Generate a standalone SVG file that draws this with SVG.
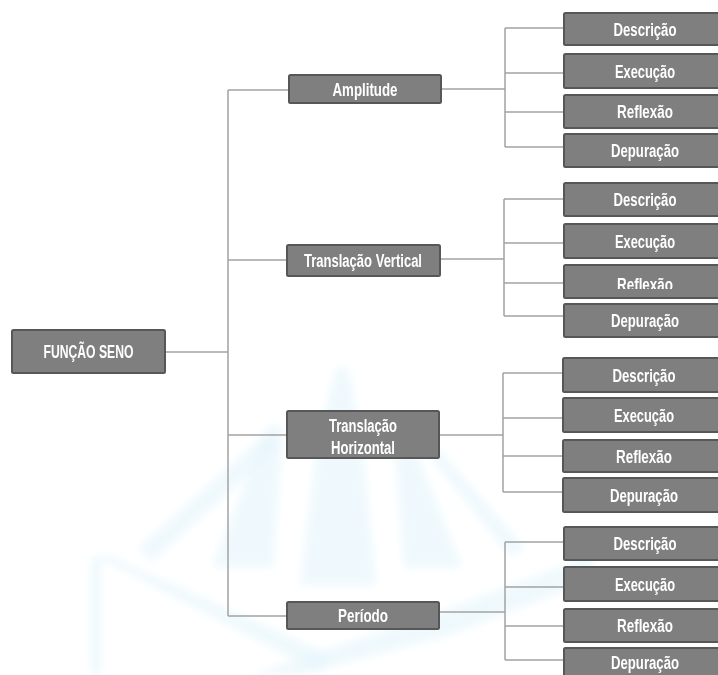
<svg xmlns="http://www.w3.org/2000/svg" width="718" height="675" viewBox="0 0 718 675">
<style>
.box{fill:#7f7f7f;stroke:#575757;stroke-width:2}
.t{font-family:"Liberation Sans",Arial,sans-serif;font-weight:bold;font-size:18px;fill:#ffffff;text-anchor:middle}
.ln{stroke:#a2a2a2;stroke-width:1.5;fill:none}
.wm{fill:#e2f4fc;opacity:0.55}
</style>
<defs>
<filter id="blur" x="-10%" y="-10%" width="120%" height="120%"><feGaussianBlur stdDeviation="4"/></filter>
<clipPath id="clipR"><rect x="563" y="265" width="156" height="24"/></clipPath>
</defs>
<rect x="0" y="0" width="718" height="675" fill="#ffffff"/>

<g id="watermark" filter="url(#blur)">
<polygon class="wm" points="336,368 348,368 362,440 376,585 300,585 318,440"/>
<polygon class="wm" points="268,426 283,426 273,567 212,567"/>
<polygon class="wm" points="393,426 406,426 462,567 404,567"/>
<polygon class="wm" points="138,548 268,432 280,446 152,562"/>
<polygon class="wm" points="410,432 420,428 525,548 510,556"/>
<polygon class="wm" points="91,557 101,557 101,675 91,675"/>
<polygon class="wm" points="95,556 110,556 330,655 320,672"/>
<polygon class="wm" points="250,675 440,612 590,556 598,578 450,635 300,675"/>
</g>

<g id="connectors">
<path class="ln" d="M165,352 H228 M228,90 V616 M228,90 H289 M228,260 H287 M228,435 H287 M228,616 H287"/>
<path class="ln" d="M441,89 H505 M505,28 V147 M505,28 H563 M505,73 H563 M505,112 H563 M505,147 H563"/>
<path class="ln" d="M440,259 H504 M504,199 V316 M504,199 H563 M504,243 H563 M504,283 H563 M504,316 H563"/>
<path class="ln" d="M439,435 H503 M503,373 V492 M503,373 H563 M503,418 H563 M503,456 H563 M503,492 H563"/>
<path class="ln" d="M439,612 H505 M505,542 V660 M505,542 H563 M505,587 H563 M505,626 H563 M505,660 H563"/>
</g>

<g id="n-funcao-seno"><rect class="box" x="12" y="330" width="153" height="43" rx="1.5"/><text class="t" x="88.5" y="358" textLength="90" lengthAdjust="spacingAndGlyphs">FUNÇÃO SENO</text></g>

<g id="n-amplitude"><rect class="box" x="289" y="75" width="152" height="28" rx="1.5"/><text class="t" x="365" y="96" textLength="65" lengthAdjust="spacingAndGlyphs">Amplitude</text></g>
<g id="n-trans-vertical"><rect class="box" x="287" y="245" width="153" height="31" rx="1.5"/><text class="t" x="363" y="267" textLength="118" lengthAdjust="spacingAndGlyphs">Translação Vertical</text></g>
<g id="n-trans-horizontal"><rect class="box" x="287" y="411" width="152" height="47" rx="1.5"/><text class="t" x="363" y="432" textLength="68" lengthAdjust="spacingAndGlyphs">Translação</text><text class="t" x="363" y="454" textLength="64" lengthAdjust="spacingAndGlyphs">Horizontal</text></g>
<g id="n-periodo"><rect class="box" x="287" y="602" width="152" height="27" rx="1.5"/><text class="t" x="363" y="622" textLength="50" lengthAdjust="spacingAndGlyphs">Período</text></g>

<g id="n-a-descricao"><rect class="box" x="564" y="13" width="156" height="32" rx="1.5"/><text class="t" x="645" y="36" textLength="63" lengthAdjust="spacingAndGlyphs">Descrição</text></g>
<g id="n-a-execucao"><rect class="box" x="564" y="54" width="156" height="34" rx="1.5"/><text class="t" x="645" y="78" textLength="60" lengthAdjust="spacingAndGlyphs">Execução</text></g>
<g id="n-a-reflexao"><rect class="box" x="564" y="95" width="156" height="33" rx="1.5"/><text class="t" x="645" y="118" textLength="56" lengthAdjust="spacingAndGlyphs">Reflexão</text></g>
<g id="n-a-depuracao"><rect class="box" x="564" y="134" width="156" height="33" rx="1.5"/><text class="t" x="645" y="157" textLength="68" lengthAdjust="spacingAndGlyphs">Depuração</text></g>

<g id="n-v-descricao"><rect class="box" x="564" y="183" width="156" height="33" rx="1.5"/><text class="t" x="645" y="206" textLength="63" lengthAdjust="spacingAndGlyphs">Descrição</text></g>
<g id="n-v-execucao"><rect class="box" x="564" y="224" width="156" height="34" rx="1.5"/><text class="t" x="645" y="248" textLength="60" lengthAdjust="spacingAndGlyphs">Execução</text></g>
<g id="n-v-reflexao"><rect class="box" x="564" y="265" width="156" height="33" rx="1.5"/><text class="t" x="645" y="291" textLength="56" lengthAdjust="spacingAndGlyphs" clip-path="url(#clipR)">Reflexão</text></g>
<g id="n-v-depuracao"><rect class="box" x="564" y="304" width="156" height="33" rx="1.5"/><text class="t" x="645" y="327" textLength="68" lengthAdjust="spacingAndGlyphs">Depuração</text></g>

<g id="n-h-descricao"><rect class="box" x="563" y="358" width="157" height="34" rx="1.5"/><text class="t" x="644" y="382" textLength="63" lengthAdjust="spacingAndGlyphs">Descrição</text></g>
<g id="n-h-execucao"><rect class="box" x="563" y="398" width="157" height="34" rx="1.5"/><text class="t" x="644" y="422" textLength="60" lengthAdjust="spacingAndGlyphs">Execução</text></g>
<g id="n-h-reflexao"><rect class="box" x="563" y="440" width="157" height="32" rx="1.5"/><text class="t" x="644" y="463" textLength="56" lengthAdjust="spacingAndGlyphs">Reflexão</text></g>
<g id="n-h-depuracao"><rect class="box" x="563" y="478" width="157" height="34" rx="1.5"/><text class="t" x="644" y="502" textLength="68" lengthAdjust="spacingAndGlyphs">Depuração</text></g>

<g id="n-p-descricao"><rect class="box" x="564" y="527" width="156" height="33" rx="1.5"/><text class="t" x="645" y="550" textLength="63" lengthAdjust="spacingAndGlyphs">Descrição</text></g>
<g id="n-p-execucao"><rect class="box" x="564" y="567" width="156" height="34" rx="1.5"/><text class="t" x="645" y="591" textLength="60" lengthAdjust="spacingAndGlyphs">Execução</text></g>
<g id="n-p-reflexao"><rect class="box" x="564" y="609" width="156" height="33" rx="1.5"/><text class="t" x="645" y="632" textLength="56" lengthAdjust="spacingAndGlyphs">Reflexão</text></g>
<g id="n-p-depuracao"><rect class="box" x="564" y="648" width="156" height="33" rx="1.5"/><text class="t" x="645" y="669" textLength="68" lengthAdjust="spacingAndGlyphs">Depuração</text></g>
</svg>
